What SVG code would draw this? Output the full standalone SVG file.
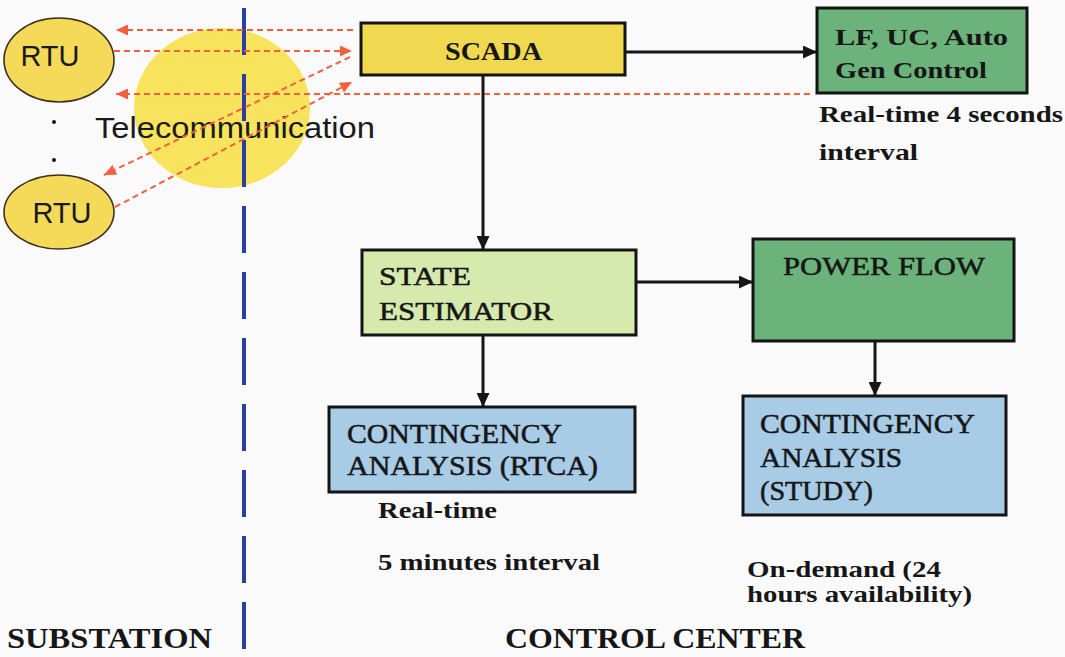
<svg xmlns="http://www.w3.org/2000/svg" width="1065" height="657" viewBox="0 0 1065 657">
  <style>
    .box { stroke: #141414; stroke-width: 3; }
    .rtu { fill: #f4da58; stroke: #3d2f22; stroke-width: 1.6; }
    .sans { font-family: "Liberation Sans", Arial, sans-serif; fill: #1a1a1a; }
    .serif { font-family: "Liberation Serif", "Times New Roman", serif; fill: #161616; }
    .b { font-weight: bold; }
    .heavy { stroke: #161616; stroke-width: 0.5; }
    .link { fill: none; stroke: #161616; stroke-width: 3; }
    .radio { fill: none; stroke: #f2603f; stroke-width: 2; stroke-dasharray: 6 4; }
  </style>
  <defs>
    <marker id="arrow" markerUnits="userSpaceOnUse" markerWidth="15" markerHeight="13" refX="14" refY="6.5" orient="auto">
      <path d="M0,0 L14,6.5 L0,13 z" fill="#161616"/>
    </marker>
    <marker id="arrow-red" markerUnits="userSpaceOnUse" markerWidth="13" markerHeight="11" refX="12" refY="5.5" orient="auto">
      <path d="M0,0 L12,5.5 L0,11 z" fill="#f2603f"/>
    </marker>
  </defs>

  <rect width="1065" height="657" fill="#fafafa"/>

  <!-- telecommunication cloud -->
  <g id="telecom">
    <ellipse cx="222" cy="108" rx="88" ry="80" fill="#f7e35c"/>
  </g>

  <!-- substation / control center boundary -->
  <line x1="244" y1="8" x2="244" y2="650" stroke="#2b3f9e" stroke-width="4" stroke-dasharray="47 19"/>

  <g id="telecom-label">
    <text class="sans" x="95" y="138" font-size="30" textLength="280" lengthAdjust="spacingAndGlyphs">Telecommunication</text>
  </g>

  <!-- remote terminal units -->
  <g id="rtu-1">
    <ellipse class="rtu" cx="59" cy="60" rx="55" ry="42"/>
    <text class="sans" x="50" y="66" font-size="29" text-anchor="middle">RTU</text>
  </g>
  <g id="rtu-dots">
    <circle cx="54" cy="122" r="2" fill="#111"/>
    <circle cx="54" cy="160" r="2" fill="#111"/>
  </g>
  <g id="rtu-2">
    <ellipse class="rtu" cx="59" cy="212" rx="55" ry="37"/>
    <text class="sans" x="62" y="223" font-size="29" text-anchor="middle">RTU</text>
  </g>

  <!-- control center nodes -->
  <g id="scada">
    <rect class="box" x="361" y="23" width="264" height="52" fill="#f0d850"/>
    <text class="serif b" x="445" y="60" font-size="26" textLength="97" lengthAdjust="spacingAndGlyphs">SCADA</text>
  </g>

  <g id="agc">
    <rect class="box" x="817" y="8" width="210" height="85" fill="#6cb37b"/>
    <text class="serif b" x="835" y="45" font-size="24" textLength="173" lengthAdjust="spacingAndGlyphs">LF, UC,  Auto</text>
    <text class="serif b" x="835" y="78" font-size="24" textLength="152" lengthAdjust="spacingAndGlyphs">Gen Control</text>
  </g>
  <g id="agc-note">
    <text class="serif b" x="819" y="122" font-size="23" textLength="244" lengthAdjust="spacingAndGlyphs">Real-time 4 seconds</text>
    <text class="serif b" x="819" y="160" font-size="23" textLength="99" lengthAdjust="spacingAndGlyphs">interval</text>
  </g>

  <g id="state-estimator">
    <rect class="box" x="362" y="250" width="274" height="85" fill="#d6eaae"/>
    <text class="serif heavy" x="379" y="285" font-size="26" textLength="92" lengthAdjust="spacingAndGlyphs">STATE</text>
    <text class="serif heavy" x="379" y="320" font-size="26" textLength="174" lengthAdjust="spacingAndGlyphs">ESTIMATOR</text>
  </g>

  <g id="power-flow">
    <rect class="box" x="753" y="239" width="261" height="102" fill="#6cb37b"/>
    <text class="serif heavy" x="783" y="275" font-size="26" textLength="202" lengthAdjust="spacingAndGlyphs">POWER FLOW</text>
  </g>

  <g id="rtca">
    <rect class="box" x="329" y="407" width="306" height="85" fill="#a8cbe6"/>
    <text class="serif heavy" x="347" y="443" font-size="27" textLength="215" lengthAdjust="spacingAndGlyphs">CONTINGENCY</text>
    <text class="serif heavy" x="347" y="475" font-size="27" textLength="251" lengthAdjust="spacingAndGlyphs">ANALYSIS (RTCA)</text>
  </g>
  <g id="rtca-note">
    <text class="serif b" x="378" y="518" font-size="23" textLength="119" lengthAdjust="spacingAndGlyphs">Real-time</text>
    <text class="serif b" x="378" y="570" font-size="23" textLength="222" lengthAdjust="spacingAndGlyphs">5 minutes interval</text>
  </g>

  <g id="study">
    <rect class="box" x="743" y="396" width="263" height="119" fill="#a8cbe6"/>
    <text class="serif heavy" x="760" y="433" font-size="27" textLength="215" lengthAdjust="spacingAndGlyphs">CONTINGENCY</text>
    <text class="serif heavy" x="760" y="467" font-size="27" textLength="142" lengthAdjust="spacingAndGlyphs">ANALYSIS</text>
    <text class="serif heavy" x="760" y="500" font-size="27" textLength="113" lengthAdjust="spacingAndGlyphs">(STUDY)</text>
  </g>
  <g id="study-note">
    <text class="serif b" x="747" y="577" font-size="23" textLength="194" lengthAdjust="spacingAndGlyphs">On-demand (24</text>
    <text class="serif b" x="747" y="602" font-size="23" textLength="225" lengthAdjust="spacingAndGlyphs">hours availability)</text>
  </g>

  <!-- area captions -->
  <g id="captions">
    <text class="serif b" x="7" y="648" font-size="29" textLength="205" lengthAdjust="spacingAndGlyphs">SUBSTATION</text>
    <text class="serif b" x="505" y="648" font-size="29" textLength="300" lengthAdjust="spacingAndGlyphs">CONTROL CENTER</text>
  </g>

  <!-- connectors -->
  <g id="connectors">
    <path class="radio" d="M353,30 L116,30" marker-end="url(#arrow-red)"/>
    <path class="radio" d="M114,51 L352,51" marker-end="url(#arrow-red)"/>
    <path class="radio" d="M810,94 L116,94" marker-end="url(#arrow-red)"/>
    <path class="radio" d="M115,207 L352,82" marker-end="url(#arrow-red)"/>
    <path class="radio" d="M350,57 L104,175" marker-end="url(#arrow-red)"/>

    <path class="link" d="M625,52 L817,52" marker-end="url(#arrow)"/>
    <path class="link" d="M483,75 L483,250" marker-end="url(#arrow)"/>
    <path class="link" d="M636,282 L753,282" marker-end="url(#arrow)"/>
    <path class="link" d="M483,335 L483,407" marker-end="url(#arrow)"/>
    <path class="link" d="M875,341 L875,396" marker-end="url(#arrow)"/>
  </g>
</svg>
